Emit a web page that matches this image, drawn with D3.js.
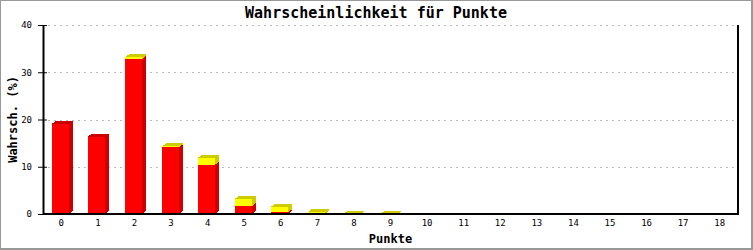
<!DOCTYPE html>
<html>
<head>
<meta charset="utf-8" />
<title>Wahrscheinlichkeit für Punkte</title>
<script src="https://d3js.org/d3.v7.min.js"></script>
<style>
  body { margin: 0; background: #fff; }
  text { font-family: "DejaVu Sans Mono", "Liberation Mono", monospace; fill: #000; }
</style>
</head>
<body>
<div id="the-chart"></div>
<script>
// Werte
var punkte = d3.range(0, 19).map(String);
var redVals    = [19.1, 16.4, 32.8, 14.1, 10.4, 1.7, 0.35, 0, 0, 0, 0, 0, 0, 0, 0, 0, 0, 0, 0];
var yellowVals = [0, 0, 0.4, 0.2, 1.5, 1.5, 1.2, 0.4, 0.08, 0.08, 0, 0, 0, 0, 0, 0, 0, 0, 0];
var yTicks = [0, 10, 20, 30, 40];

var svg = d3.select("#the-chart").append("svg")
    .attr("width", 753)
    .attr("height", 250),
    margin = { top: 25, right: 15, bottom: 36, left: 43 },
    width = +svg.attr("width") - margin.left - margin.right,
    height = +svg.attr("height") - margin.top - margin.bottom;

// Rahmen
svg.append("rect").attr("width", 753).attr("height", 250).attr("fill", "#999");
svg.append("rect").attr("x", 1).attr("y", 1).attr("width", 750).attr("height", 247).attr("fill", "#fff");

var g = svg.append("g")
    .attr("transform", "translate(" + margin.left + "," + margin.top + ")");

var x = d3.scaleBand().domain(punkte).range([0, width]).padding(0),
    y = d3.scaleLinear().domain([0, 40]).range([height, 0]);

// Gitterlinien
g.append("g").selectAll("line.grid")
    .data(yTicks.filter(function (d) { return d > 0; }))
    .enter().append("line")
    .attr("x1", 5).attr("x2", width)
    .attr("y1", function (d) { return Math.round(y(d)) + 0.5; })
    .attr("y2", function (d) { return Math.round(y(d)) + 0.5; })
    .attr("stroke", "#bbb")
    .attr("stroke-dasharray", "2,4");

// 3D-Balken
var depth = 4, rise = 3;
var bw = Math.round(x.bandwidth() * 0.47);
var colors = [
    { front: "#ff0000", dark: "#cc0000" },
    { front: "#ffff00", dark: "#cccc00" }
];

var gBar = g.append("g").attr("shape-rendering", "crispEdges");
punkte.forEach(function (p, i) {
    var x0 = Math.round(x(p) + x.bandwidth() / 2 - bw / 2 - 1),
        x1 = x0 + bw;
    var segs = [[0, redVals[i]], [redVals[i], redVals[i] + yellowVals[i]]];
    segs.forEach(function (s, k) {
        if (s[1] - s[0] <= 0) return;
        var yb = y(s[0]), yt = y(s[1]);
        // Seite
        gBar.append("polygon")
            .attr("points", [[x1, yb], [x1 + depth, yb - rise], [x1 + depth, yt - rise], [x1, yt]].join(" "))
            .attr("fill", colors[k].dark);
        // Oberseite
        gBar.append("polygon")
            .attr("points", [[x0, yt], [x0 + depth, yt - rise], [x1 + depth, yt - rise], [x1, yt]].join(" "))
            .attr("fill", colors[k].dark);
        // Vorderseite
        gBar.append("rect")
            .attr("x", x0).attr("y", yt)
            .attr("width", bw).attr("height", Math.max(0, yb - yt))
            .attr("fill", colors[k].front);
    });
});

// Achsen
var yAxis = g.append("g")
    .call(d3.axisLeft(y).tickValues(yTicks).tickSize(5).tickSizeOuter(0));
yAxis.select(".domain").attr("stroke-width", 2);
yAxis.selectAll(".tick line").attr("x1", 4).attr("x2", -5);
yAxis.selectAll(".tick text").attr("x", -11)
    .style("font-family", "'DejaVu Sans Mono', monospace").style("font-size", "9px");

g.append("line")
    .attr("x1", 0).attr("x2", width + 1)
    .attr("y1", height).attr("y2", height)
    .attr("stroke", "#000").attr("stroke-width", 2);
g.append("line")
    .attr("x1", width).attr("x2", width)
    .attr("y1", 0).attr("y2", height)
    .attr("stroke", "#000").attr("stroke-width", 2);

g.append("g").selectAll("text.xl")
    .data(punkte)
    .enter().append("text")
    .attr("x", function (d) { return x(d) + x.bandwidth() / 2; })
    .attr("y", height + 12)
    .attr("text-anchor", "middle")
    .style("font-size", "9px")
    .text(function (d) { return d; });

// Beschriftungen
svg.append("text")
    .attr("x", 376).attr("y", 18)
    .attr("text-anchor", "middle")
    .style("font-size", "15px").style("font-weight", "bold")
    .text("Wahrscheinlichkeit für Punkte");

svg.append("text")
    .attr("x", margin.left + width / 2).attr("y", 243)
    .attr("text-anchor", "middle")
    .style("font-size", "12px").style("font-weight", "bold")
    .text("Punkte");

svg.append("text")
    .attr("transform", "translate(17," + (margin.top + height / 2) + ") rotate(-90)")
    .attr("text-anchor", "middle")
    .style("font-size", "12px").style("font-weight", "bold")
    .text("Wahrsch. (%)");
</script>
</body>
</html>
